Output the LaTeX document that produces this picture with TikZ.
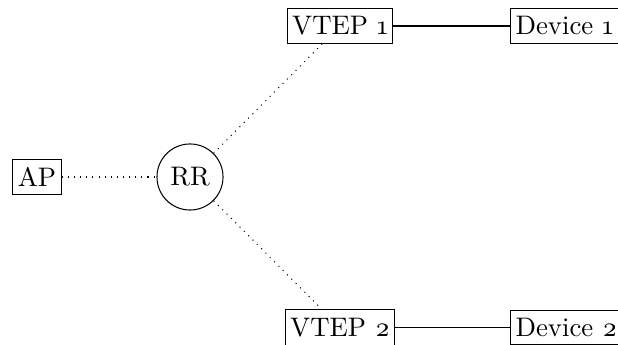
\documentclass[tikz,border=0pt]{standalone}
\usepackage{fontspec}
\setmainfont{Latin Modern Roman}[Numbers=OldStyle]
\begin{document}
\begin{tikzpicture}[x=0.392pt,y=-0.392pt,
  font=\fontsize{10.5}{12.6}\selectfont,
  netbox/.style={draw,rectangle,inner xsep=2pt,inner ysep=3.2pt},
  hub/.style={draw,circle,minimum size=25.9pt,inner sep=0pt},
  overlay link/.style={dotted},
  wire/.style={}]
\useasboundingbox (0,0) rectangle (618,345);
\node[netbox] (ap) at (37,177) {AP};
\node[hub] (rr) at (190,177) {RR};
\node[netbox] (vtepa) at (340,26) {VTEP 1};
\node[netbox] (vtepb) at (340,327.5) {VTEP 2};
\node[netbox,anchor=west] (deva) at (510,26) {Device 1};
\node[netbox,anchor=west] (devb) at (510,327.5) {Device 2};
\draw[overlay link] (ap) -- (rr);
\draw[overlay link] (rr) -- (vtepa);
\draw[overlay link] (rr) -- (vtepb);
\draw[wire] (vtepa) -- (deva);
\draw[wire] (vtepb) -- (devb);
\end{tikzpicture}
\end{document}
